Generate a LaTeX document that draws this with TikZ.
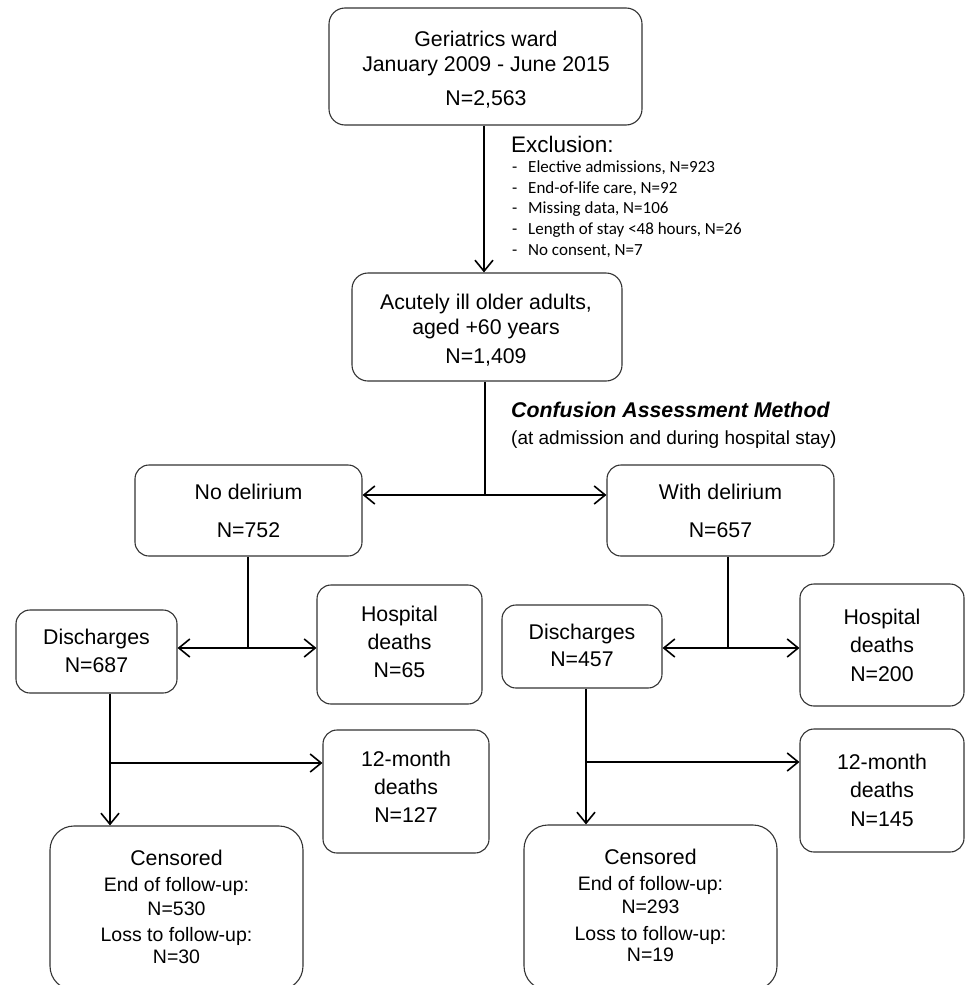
\documentclass[tikz,border=0pt]{standalone}
\usepackage{fontspec}
\setmainfont{Liberation Sans}
\newfontfamily\calib{Carlito}
\usetikzlibrary{arrows.meta}
\tikzset{
  box/.style={draw=black!80, line width=1.1pt, rounded corners=14pt, inner sep=0pt},
  bigbox/.style={box, rounded corners=24pt},
  txt/.style={inner sep=0pt, anchor=base, font=\fontsize{21.3}{24}\selectfont},
  subtxt/.style={inner sep=0pt, anchor=base, font=\fontsize{19.5}{22}\selectfont},
  lst/.style={inner sep=0pt, anchor=base west, font=\calib\fontsize{17}{19}\selectfont},
  conn/.style={line width=1.6pt},
  arr/.style={conn, -{Straight Barb[length=11pt,width=18pt]}},
}
\begin{document}
\begin{tikzpicture}[x=1pt,y=-1pt]
\path[use as bounding box, clip] (0,0) rectangle (966,985);
\fill[white] (0,0) rectangle (966,985);

% boxes
\node[box, rounded corners=16pt, minimum width=313pt, minimum height=117pt] (top) at (485.5,66.5) {};
\node[box, rounded corners=16pt, minimum width=270pt, minimum height=108pt] (acute) at (487,327) {};
\node[box, minimum width=227pt, minimum height=91pt] (nodel) at (248.5,510.5) {};
\node[box, minimum width=227pt, minimum height=91pt] (wdel) at (720.5,510.5) {};
\node[box, minimum width=161pt, minimum height=83pt] (disL) at (96.5,651.5) {};
\node[box, minimum width=165pt, minimum height=119pt] (hdL) at (399.5,644.5) {};
\node[box, minimum width=160pt, minimum height=83pt] (disR) at (582,646.5) {};
\node[box, minimum width=164pt, minimum height=122pt] (hdR) at (882,645) {};
\node[box, minimum width=166pt, minimum height=123pt] (mL) at (406,791.5) {};
\node[box, minimum width=164pt, minimum height=123pt] (mR) at (882,790.5) {};
\node[bigbox, minimum width=253pt, minimum height=164pt] (cL) at (176.5,908) {};
\node[bigbox, minimum width=253pt, minimum height=165pt] (cR) at (650.5,907.5) {};

% texts
\node[txt] (t1) at (486,46) {Geriatrics ward};
\node[txt] (t2) at (486,71) {January 2009 - June 2015};
\node[txt] (t3) at (486,105) {N=2,563};

\node[inner sep=0pt, anchor=base west, font=\fontsize{22.5}{26}\selectfont] (ex) at (511,152) {Exclusion:};
\node[lst] (d1) at (512,172) {-};
\node[lst] (e1) at (528,172) {Elective admissions, N=923};
\node[lst] (d2) at (512,193.5) {-};
\node[lst] (e2) at (528,193.5) {End-of-life care, N=92};
\node[lst] (d3) at (512,213.5) {-};
\node[lst] (e3) at (528,213.5) {Missing data, N=106};
\node[lst] (d4) at (512,234.5) {-};
\node[lst] (e4) at (528,234.5) {Length of stay <48 hours, N=26};
\node[lst] (d5) at (512,255.5) {-};
\node[lst] (e5) at (528,255.5) {No consent, N=7};

\node[txt] (a1) at (486,309) {Acutely ill older adults,};
\node[txt] (a2) at (486,334) {aged +60 years};
\node[txt] (a3) at (486,363) {N=1,409};

\node[inner sep=0pt, anchor=base west, font=\bfseries\itshape\fontsize{21.3}{24}\selectfont] (cam) at (511,417) {Confusion Assessment Method};
\node[inner sep=0pt, anchor=base west, font=\fontsize{19}{21}\selectfont] (cam2) at (511,444) {(at admission and during hospital stay)};

\node[txt] (n1) at (248.5,499) {No delirium};
\node[txt] (n2) at (248.5,537) {N=752};
\node[txt] (w1) at (720.5,499) {With delirium};
\node[txt] (w2) at (720.5,537) {N=657};

\node[txt] (dl1) at (96.5,644) {Discharges};
\node[txt] (dl2) at (96.5,672.5) {N=687};
\node[txt] (hl1) at (399.5,621) {Hospital};
\node[txt] (hl2) at (399.5,649) {deaths};
\node[txt] (hl3) at (399.5,677) {N=65};

\node[txt] (dr1) at (582,639) {Discharges};
\node[txt] (dr2) at (582,666) {N=457};
\node[txt] (hr1) at (882,624) {Hospital};
\node[txt] (hr2) at (882,652) {deaths};
\node[txt] (hr3) at (882,681) {N=200};

\node[txt] (ml1) at (406,766) {12-month};
\node[txt] (ml2) at (406,794) {deaths};
\node[txt] (ml3) at (406,822.5) {N=127};
\node[txt] (mr1) at (882,769) {12-month};
\node[txt] (mr2) at (882,797.5) {deaths};
\node[txt] (mr3) at (882,826) {N=145};

\node[txt] (cl1) at (176.5,865) {Censored};
\node[subtxt] (cl2) at (176.5,891.5) {End of follow-up:};
\node[subtxt] (cl3) at (176.5,915) {N=530};
\node[subtxt] (cl4) at (176.5,941.5) {Loss to follow-up:};
\node[subtxt] (cl5) at (176.5,963.5) {N=30};

\node[txt] (cr1) at (650.5,864) {Censored};
\node[subtxt] (cr2) at (650.5,890.5) {End of follow-up:};
\node[subtxt] (cr3) at (650.5,913.5) {N=293};
\node[subtxt] (cr4) at (650.5,940) {Loss to follow-up:};
\node[subtxt] (cr5) at (650.5,961.5) {N=19};

% junctions
\coordinate (j0) at (484,200);
\coordinate (j1) at (485,495);
\coordinate (j2) at (248,648);
\coordinate (j3) at (728,648);
\coordinate (j4) at (110,763);
\coordinate (j5) at (586,762);

% connectors
\draw[arr] (j0 |- top.south) -- (j0 |- acute.north);
\draw[conn] (j1 |- acute.south) -- (j1);
\draw[arr] (j1) -- (j1 -| nodel.east);
\draw[arr] (j1) -- (j1 -| wdel.west);

\draw[conn] (j2 |- nodel.south) -- (j2);
\draw[arr] (j2) -- (j2 -| disL.east);
\draw[arr] (j2) -- (j2 -| hdL.west);

\draw[conn] (j3 |- wdel.south) -- (j3);
\draw[arr] (j3) -- (j3 -| disR.east);
\draw[arr] (j3) -- (j3 -| hdR.west);

\draw[arr] (j4 |- disL.south) -- (j4 |- cL.north);
\draw[arr] (j4) -- (j4 -| mL.west);

\draw[arr] (j5 |- disR.south) -- (j5 |- cR.north);
\draw[arr] (j5) -- (j5 -| mR.west);
\end{tikzpicture}
\end{document}
